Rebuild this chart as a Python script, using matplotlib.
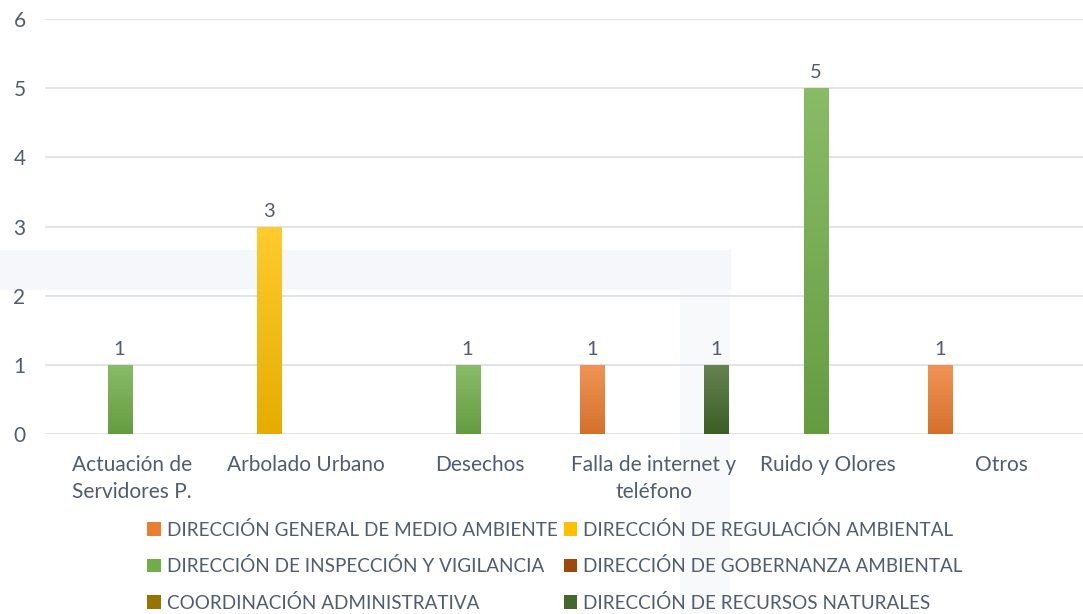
import numpy as np
import matplotlib
matplotlib.use('Agg')
import matplotlib.pyplot as plt
import matplotlib.colors as mcolors
from matplotlib.patches import Patch, Rectangle

plt.rcParams['font.family'] = ['Lato', 'DejaVu Sans']

categories = ['Actuación de\nServidores P.', 'Arbolado Urbano', 'Desechos',
              'Falla de internet y\nteléfono', 'Ruido y Olores', 'Otros']
series_names = ['DIRECCIÓN GENERAL DE MEDIO AMBIENTE',
                'DIRECCIÓN DE REGULACIÓN AMBIENTAL',
                'DIRECCIÓN DE INSPECCIÓN Y VIGILANCIA',
                'DIRECCIÓN DE GOBERNANZA AMBIENTAL',
                'COORDINACIÓN ADMINISTRATIVA',
                'DIRECCIÓN DE RECURSOS NATURALES']
general = [0, 0, 0, 1, 0, 1]
regulacion = [0, 3, 0, 0, 0, 0]
inspeccion = [1, 0, 1, 0, 5, 0]
gobernanza = [0, 0, 0, 0, 0, 0]
coordinacion = [0, 0, 0, 0, 0, 0]
recursos = [0, 0, 0, 1, 0, 0]
values = [general, regulacion, inspeccion, gobernanza, coordinacion, recursos]
colors = ['#ED7D31', '#FFC000', '#70AD47', '#9E480E', '#997300', '#43682B']
yticks = [0, 1, 2, 3, 4, 5, 6]

TXT = '#505d70'
GRID = '#dadee4'


def gradient_fill(ax, rect, color):
    """paint the bar with a light-to-dark vertical gradient"""
    x, y = rect.get_x(), rect.get_y()
    w, h = rect.get_width(), rect.get_height()
    rgb = np.array(mcolors.to_rgb(color))
    top = rgb + (1 - rgb) * 0.18
    bot = rgb * 0.9
    t = np.linspace(0, 1, 64)[:, None]
    img = (bot + (top - bot) * t)[:, None, :]
    im = ax.imshow(img, extent=(x, x + w, y, y + h), origin='lower',
                   aspect='auto', interpolation='bilinear', zorder=3)
    im.set_clip_path(rect)
    rect.set_facecolor('none')


fig = plt.figure(figsize=(10.83, 6.14), dpi=100)

# faint watermark shapes in the background
fig.patches.append(Rectangle((0, 0.528), 0.675, 0.065, transform=fig.transFigure,
                             facecolor='#f6f7fa', edgecolor='none', zorder=0))
fig.patches.append(Rectangle((0.628, 0), 0.046, 0.528, transform=fig.transFigure,
                             facecolor='#f8f9fb', edgecolor='none', zorder=0))

ax = fig.add_axes([0.0415, 0.293, 0.9585, 0.676])
ax.set_facecolor('none')
ax.set_zorder(2)

n = len(values)
step = 0.1426
width = 0.138
x = np.arange(len(categories))
for i, (vals, col) in enumerate(zip(values, colors)):
    offs = x + (i - (n - 1) / 2) * step
    for xx, v in zip(offs, vals):
        if v == 0:
            continue
        bar = ax.bar(xx, v, width, color=col, zorder=3)[0]
        gradient_fill(ax, bar, col)
        ax.text(xx, v + 0.1, str(v), ha='center', va='bottom',
                fontsize=14.5, color=TXT)

ax.set_xlim(-0.5, 5.466)
ax.set_ylim(0, 6)
ax.set_yticks(yticks)
ax.yaxis.grid(True, color=GRID, linewidth=1.2, zorder=0)
ax.set_axisbelow(True)
for s in ax.spines.values():
    s.set_visible(False)
ax.tick_params(axis='both', length=0, labelsize=15, colors=TXT)
ax.tick_params(axis='y', pad=14)
ax.tick_params(axis='x', pad=15)
ax.set_xticks(x)
ax.set_xticklabels(categories, linespacing=1.45)

handles = [Patch(facecolor=c, edgecolor='none') for c in colors]
order = [0, 2, 4, 1, 3, 5]
fig.legend([handles[k] for k in order], [series_names[k] for k in order],
           loc='upper left', bbox_to_anchor=(0.136, 0.152), ncol=2,
           frameon=False, fontsize=13.6, labelcolor=TXT,
           handlelength=0.7, handleheight=0.7, handletextpad=0.35,
           columnspacing=0.3, labelspacing=0.98, borderaxespad=0, borderpad=0)

fig.savefig('out.png', dpi=100)
